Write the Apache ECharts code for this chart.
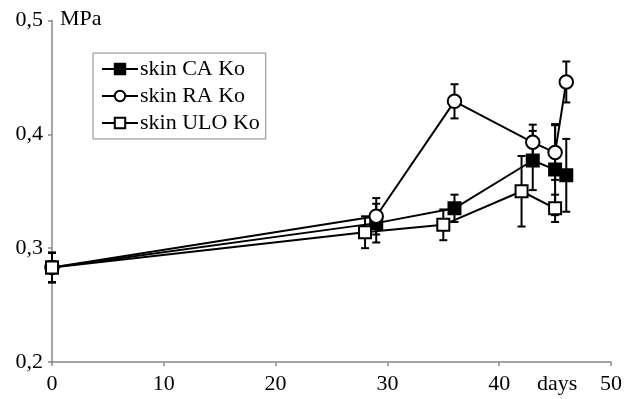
<!DOCTYPE html>
<html>
<head>
<meta charset="utf-8">
<script src="https://cdn.jsdelivr.net/npm/echarts@6/dist/echarts.min.js"></script>
<style>
  html, body { margin: 0; padding: 0; background: #fff; }
  #chart { width: 633px; height: 399px; }
</style>
</head>
<body>
<div id="chart"></div>
<script>
// Skin modulus (MPa) over time (days) for three groups, mean ± error
const caDays = [0, 29, 36, 43, 45, 46];
const caValues = [0.283, 0.322, 0.335, 0.377, 0.369, 0.364];
const caErrors = [0.013, 0.017, 0.012, 0.026, 0.04, 0.032];

const raDays = [0, 29, 36, 43, 45, 46];
const raValues = [0.283, 0.328, 0.429, 0.393, 0.384, 0.446];
const raErrors = [0.013, 0.016, 0.015, 0.0155, 0.024, 0.018];

const uloDays = [0, 28, 35, 42, 45];
const uloValues = [0.283, 0.314, 0.3205, 0.350, 0.335];
const uloErrors = [0.013, 0.014, 0.0135, 0.031, 0.012];

const seriesNames = ['skin CA Ko', 'skin RA Ko', 'skin ULO Ko'];
const xTicks = [0, 10, 20, 30, 40, 50];
const yTicks = [0.2, 0.3, 0.4, 0.5];
const xUnit = 'days';
const yUnit = 'MPa';

const serif = "'Liberation Serif', 'Times New Roman', serif";
const fontSize = 22;

function points(days, values) {
  return days.map((d, i) => [d, values[i]]);
}
function bars(days, values, errors) {
  return days.map((d, i) => [d, values[i] - errors[i], values[i] + errors[i]]);
}

function errorBarItem(params, api) {
  const x = api.value(0);
  const lo = api.coord([x, api.value(1)]);
  const hi = api.coord([x, api.value(2)]);
  const cap = 4;
  const style = { stroke: '#000', lineWidth: 2 };
  return {
    type: 'group',
    children: [
      { type: 'line', shape: { x1: lo[0], y1: lo[1], x2: hi[0], y2: hi[1] }, style },
      { type: 'line', shape: { x1: lo[0] - cap, y1: lo[1], x2: lo[0] + cap, y2: lo[1] }, style },
      { type: 'line', shape: { x1: hi[0] - cap, y1: hi[1], x2: hi[0] + cap, y2: hi[1] }, style }
    ]
  };
}

function errorSeries(days, values, errors) {
  return {
    type: 'custom',
    renderItem: errorBarItem,
    data: bars(days, values, errors),
    encode: { x: 0, y: [1, 2] },
    z: 1,
    silent: true
  };
}

function lineSeries(name, days, values, symbol, size, fill) {
  return {
    name,
    type: 'line',
    data: points(days, values),
    symbol,
    symbolSize: size,
    showAllSymbol: true,
    lineStyle: { color: '#000', width: 2 },
    itemStyle: { color: fill, borderColor: '#000', borderWidth: 2 },
    z: 3,
    animation: false
  };
}

const chart = echarts.init(document.getElementById('chart'), null, { renderer: 'canvas' });

chart.setOption({
  animation: false,
  backgroundColor: '#fff',
  grid: { left: 52, right: 22, top: 20.5, bottom: 37 },
  xAxis: {
    type: 'value',
    min: xTicks[0],
    max: xTicks[xTicks.length - 1],
    interval: 10,
    axisLine: { lineStyle: { color: '#888', width: 1.5 } },
    axisTick: { show: true, length: 4, lineStyle: { color: '#888', width: 1.5 } },
    axisLabel: { margin: 11, color: '#000', fontFamily: serif, fontSize },
    splitLine: { show: false }
  },
  yAxis: {
    type: 'value',
    min: yTicks[0],
    max: yTicks[yTicks.length - 1],
    interval: 0.1,
    axisLine: { show: true, lineStyle: { color: '#888', width: 1.5 } },
    axisTick: { show: true, length: 4, lineStyle: { color: '#888', width: 1.5 } },
    axisLabel: {
      margin: 9, color: '#000', fontFamily: serif, fontSize,
      formatter: v => v.toFixed(1).replace('.', ',')
    },
    splitLine: { show: false }
  },
  legend: {
    orient: 'vertical',
    left: 93,
    top: 53,
    padding: [5, 6, 5, 8],
    itemGap: 5,
    itemWidth: 36,
    itemHeight: 13,
    borderColor: '#888',
    borderWidth: 1,
    data: seriesNames,
    textStyle: { color: '#000', fontFamily: serif, fontSize, padding: [0, 0, 0, -3] }
  },
  graphic: [
    {
      type: 'text', left: 60, top: 8,
      style: { text: yUnit, fill: '#000', font: fontSize + 'px ' + serif }
    },
    {
      type: 'text', left: 537, top: 373,
      style: { text: xUnit, fill: '#000', font: fontSize + 'px ' + serif }
    }
  ],
  series: [
    errorSeries(caDays, caValues, caErrors),
    errorSeries(raDays, raValues, raErrors),
    errorSeries(uloDays, uloValues, uloErrors),
    lineSeries(seriesNames[0], caDays, caValues, 'rect', 12, '#000'),
    lineSeries(seriesNames[1], raDays, raValues, 'circle', 13.5, '#fff'),
    lineSeries(seriesNames[2], uloDays, uloValues, 'rect', 12, '#fff')
  ]
});
</script>
</body>
</html>
